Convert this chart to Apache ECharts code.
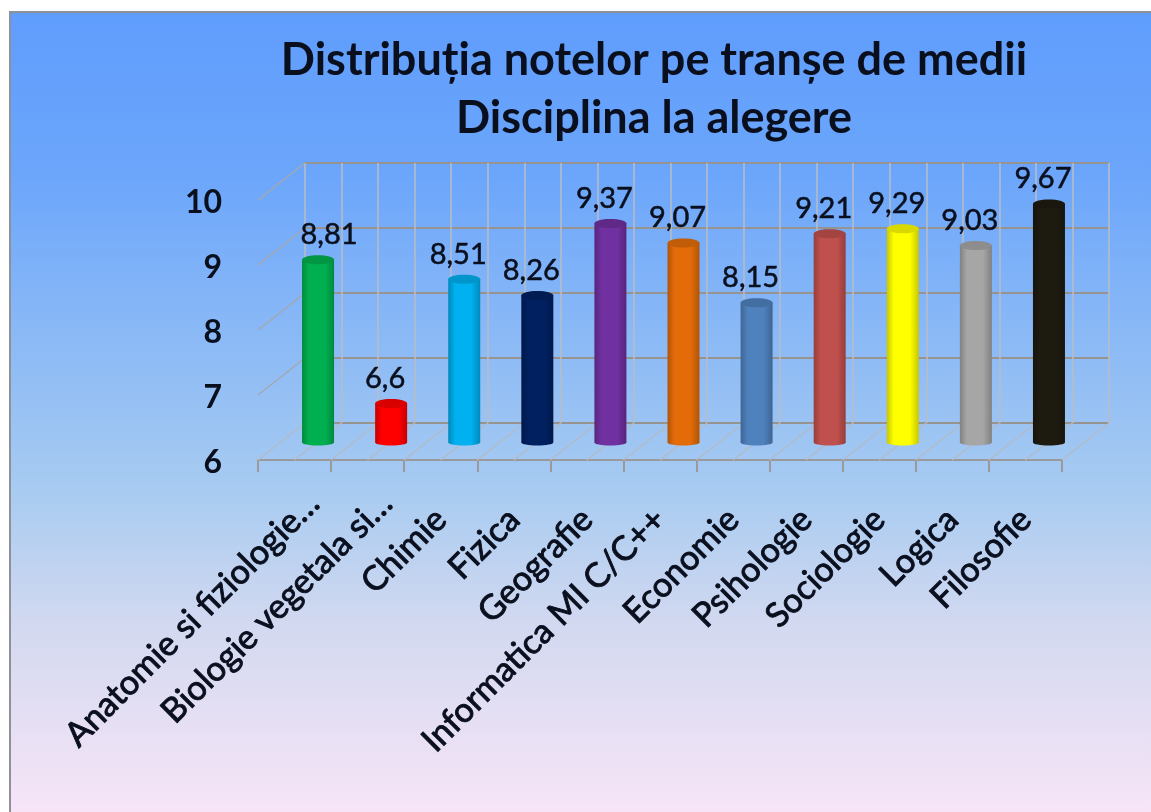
<!DOCTYPE html>
<html>
<head>
<meta charset="utf-8">
<style>html,body{margin:0;padding:0;background:#fff}#c{width:1151px;height:812px}</style>
<script src="https://cdn.jsdelivr.net/npm/echarts@6/dist/echarts.min.js"></script>
</head>
<body>
<div id="c"></div>
<script>
const titleLines = ['Distribuția notelor pe tranșe de medii', 'Disciplina la alegere'];
const categories = ['Anatomie si fiziologie…','Biologie vegetala si…','Chimie','Fizica','Geografie','Informatica MI C/C++','Economie','Psihologie','Sociologie','Logica','Filosofie'];
const values = [8.81, 6.6, 8.51, 8.26, 9.37, 9.07, 8.15, 9.21, 9.29, 9.03, 9.67];
const barColors = ['#00b050','#ff0000','#00b0f0','#002060','#7030a0','#e36c09','#4f81bd','#c0504d','#ffff00','#a6a6a6','#1d1b10'];
const yTicks = [6, 7, 8, 9, 10];
const halfSteps = []; for (let k = 0; k <= categories.length * 2; k++) halfSteps.push(k / 2);

const W = 804, H = 260, L = 258, B = 460, DX = 47, DY = 37;
const font = 'Lato, Carlito, "Open Sans", sans-serif';
const ink = '#0a0f1e';
const chart = echarts.init(document.getElementById('c'), null, {renderer:'canvas'});
const mk = (left, bottomY) => ({left, width:W, top:bottomY - H, height:H, containLabel:false});
function dark(hex, k) {
  const n = parseInt(hex.slice(1), 16);
  const f = s => Math.round(((n >> s) & 255) * k);
  return 'rgb(' + f(16) + ',' + f(8) + ',' + f(0) + ')';
}
function renderBar(params, api) {
  const i = api.value(0), v = api.value(1);
  const top = api.coord([i, v]), base = api.coord([i, 6]);
  const rx = 16, c = barColors[i];
  const edge = dark(c, 0.78), tip = dark(c, 0.85);
  const dx = i === 0 ? 11 : -6;
  const body = () => new echarts.graphic.LinearGradient(0,0,1,0,[
    {offset:0,color:edge},{offset:0.22,color:c},{offset:0.72,color:c},{offset:1,color:edge}]);
  return {type:'group', children:[
    {type:'ellipse', shape:{cx:base[0], cy:base[1], rx, ry:3}, style:{fill:body()}},
    {type:'rect', shape:{x:base[0]-rx, y:top[1], width:2*rx, height:base[1]-top[1]}, style:{fill:body()}},
    {type:'ellipse', shape:{cx:top[0], cy:top[1], rx, ry:4.5}, style:{fill:tip}},
    {type:'text', x:top[0]+dx, y:top[1]-25, style:{
      text:String(v).replace('.',','), font:'400 29px '+font, fill:ink, stroke:ink, lineWidth:0.5, align:'center', verticalAlign:'middle'}}
  ]};
}
function renderFloorDiag(params, api) {
  const p = api.coord([api.value(0), 6]);
  return {type:'line', shape:{x1:p[0], y1:p[1], x2:p[0]+DX, y2:p[1]-DY},
    style:{stroke:'#b4bac4', lineWidth:1.2}};
}
function renderSideDiag(params, api) {
  const p = api.coord([0, api.value(1)]);
  return {type:'line', shape:{x1:p[0], y1:p[1], x2:p[0]+DX, y2:p[1]-DY},
    style:{stroke:'#a3a8b2', lineWidth:1.5}};
}
const xLabel = {rotate:45, fontFamily:font, fontSize:34, fontWeight:400, color:ink, textBorderColor:ink, textBorderWidth:0.9};
const hiddenY = {type:'value', min:6, max:10, interval:1, show:false, splitLine:{show:false}};

chart.setOption({
  animation:false,
  backgroundColor:'#ffffff',
  graphic:[{type:'rect', z:-10, shape:{x:10, y:12, width:1160, height:820},
    style:{stroke:'#8e9198', lineWidth:2,
      fill:new echarts.graphic.LinearGradient(0,0,0,1,[
        {offset:0,color:'#5f9dfd'},{offset:0.2,color:'#6ca6fb'},{offset:0.58,color:'#a7cbf1'},{offset:0.75,color:'#d3d9f0'},{offset:1,color:'#fbe6f8'}])}}],
  title:{text:titleLines.join('\n'), left:649, top:26, textAlign:'center',
    textStyle:{fontFamily:font, fontWeight:'bold', fontSize:45, lineHeight:58, color:ink}},
  grid:[mk(L,B), mk(L+DX,B-DY), mk(L+DX/2,B-DY/2+1), mk(L+19,B), mk(L,B), mk(L,B+3)],
  xAxis:[
    {gridIndex:0, type:'category', data:categories, boundaryGap:true, axisLabel:{show:true, interval:0, color:'transparent', formatter:()=>''},
      axisLine:{show:true, lineStyle:{color:'#9a9a9c', width:2}},
      axisTick:{show:true, interval:0, alignWithLabel:false, length:12, lineStyle:{color:'#9a9a9c', width:2}}},
    {gridIndex:1, type:'value', min:0, max:categories.length, interval:0.5, axisLine:{show:false}, axisTick:{show:false}, axisLabel:{show:false},
      splitLine:{show:true, lineStyle:{color:'#b8bcc6', width:1.5}}},
    {gridIndex:2, type:'category', data:categories, show:false},
    {gridIndex:3, type:'category', data:categories, axisLine:{show:false}, axisTick:{show:false},
      axisLabel:Object.assign({}, xLabel, {margin:38, interval:(i)=>i<2})},
    {gridIndex:0, type:'value', min:0, max:categories.length, show:false},
    {gridIndex:4, type:'category', data:categories, axisLine:{show:false}, axisTick:{show:false},
      axisLabel:Object.assign({}, xLabel, {margin:54, interval:(i)=>i>=2})},
    {gridIndex:5, type:'category', data:categories, show:false}
  ],
  yAxis:[
    Object.assign({gridIndex:0}, hiddenY),
    {gridIndex:1, type:'value', min:6, max:10, interval:1, axisLine:{show:false}, axisTick:{show:false}, axisLabel:{show:false},
      splitLine:{show:true, lineStyle:{color:'#97938f', width:2}}},
    Object.assign({gridIndex:2}, hiddenY),
    Object.assign({gridIndex:3}, hiddenY),
    Object.assign({gridIndex:4}, hiddenY),
    {gridIndex:5, type:'value', min:6, max:10, interval:1, splitLine:{show:false}, axisLine:{show:false}, axisTick:{show:false},
      axisLabel:{margin:36, fontFamily:font, fontSize:32, fontWeight:'bold', color:ink}}
  ],
  series:[
    {type:'custom', xAxisIndex:4, yAxisIndex:0, z:2, silent:true, renderItem:renderFloorDiag, data:halfSteps.map(s=>[s,6])},
    {type:'custom', xAxisIndex:4, yAxisIndex:0, z:2, silent:true, renderItem:renderSideDiag, data:yTicks.slice(1).map(t=>[0,t])},
    {type:'custom', xAxisIndex:2, yAxisIndex:2, z:5, silent:true, renderItem:renderBar, encode:{x:0,y:1},
      data:values.map((v,i)=>[i,v]), clip:false}
  ]
});
</script>
</body>
</html>
